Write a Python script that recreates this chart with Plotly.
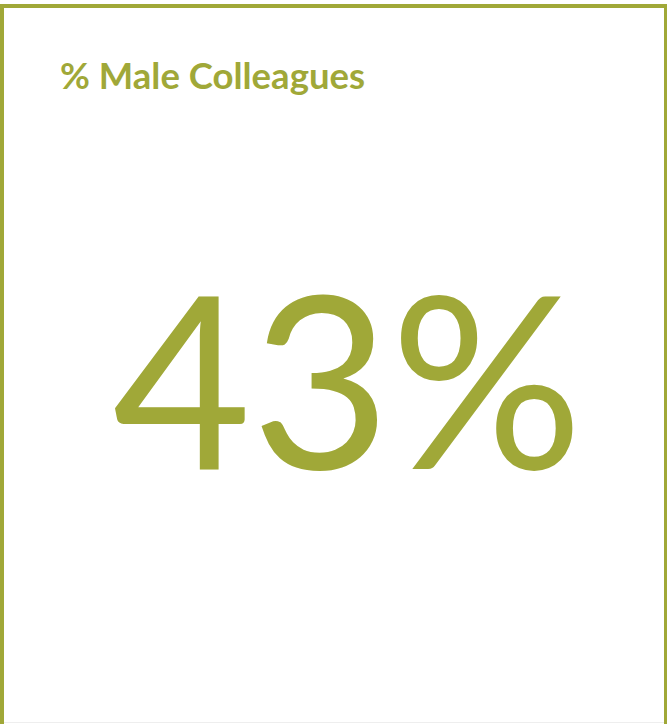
import plotly.graph_objects as go

W, H = 667, 724
title_text = "% Male Colleagues"
value = 43
suffix = "%"
color = "#A0A838"
FONT = "Lato, 'Source Sans Pro', sans-serif"

fig = go.Figure(go.Indicator(
    mode="number",
    value=value,
    number=dict(suffix=suffix, font=dict(size=240, color=color, family=FONT)),
    domain=dict(x=[0.042, 1.0], y=[0.13, 0.83]),
))

fig.add_annotation(
    text=f"<b>{title_text}</b>", xref="paper", yref="paper",
    x=58 / W, y=1 - 75 / H, xanchor="left", yanchor="middle", showarrow=False,
    font=dict(size=36.5, color=color, family=FONT),
)

# card border
fig.add_shape(type="rect", xref="paper", yref="paper",
              x0=2 / W, x1=666 / W, y0=-0.05, y1=1 - 6 / H,
              line=dict(color=color, width=4), fillcolor="rgba(0,0,0,0)")
fig.add_shape(type="line", xref="paper", yref="paper",
              x0=4 / W, x1=664 / W, y0=1 - 722.5 / H, y1=1 - 722.5 / H,
              line=dict(color="#EEEEEE", width=1))

fig.update_layout(
    width=W, height=H, margin=dict(l=0, r=0, t=0, b=0),
    paper_bgcolor="white", plot_bgcolor="white",
)
fig.write_html("out.html", config={"displayModeBar": False},
               post_script="document.body.style.margin='0';document.body.style.overflow='hidden';")
